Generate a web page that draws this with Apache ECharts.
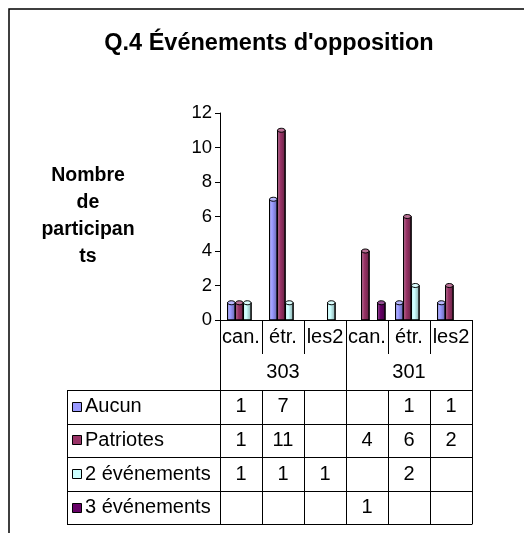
<!DOCTYPE html>
<html>
<head>
<meta charset="utf-8">
<title>Q.4 Événements d'opposition</title>
<script src="https://cdn.jsdelivr.net/npm/echarts@6/dist/echarts.min.js"></script>
<style>
html, body { margin: 0; padding: 0; background: #fff; }
#main { width: 524px; height: 533px; }
</style>
</head>
<body>
<div id="main"></div>
<script type="text/javascript">
// données
var categories = ['can.', 'étr.', 'les2', 'can.', 'étr.', 'les2'];
var groups = ['303', '301'];
var seriesNames = ['Aucun', 'Patriotes', '2 événements', '3 événements'];
var aucun = [1, 7, null, null, 1, 1];
var patriotes = [1, 11, null, 4, 6, 2];
var deuxEvenements = [1, 1, 1, null, 2, null];
var troisEvenements = [null, null, null, 1, null, null];
var yTicks = [0, 2, 4, 6, 8, 10, 12];

var seriesValues = [aucun, patriotes, deuxEvenements, troisEvenements];
var colors = ['#9999FF', '#993366', '#CCFFFF', '#660066'];
var font = "'Liberation Sans', Arial, sans-serif";

// éclaircir (t>0) ou assombrir (t<0) une couleur
function shade(hex, t) {
	var n = parseInt(hex.slice(1), 16);
	var rgb = [(n >> 16) & 255, (n >> 8) & 255, n & 255].map(function (v) {
		return Math.round(t > 0 ? v + (255 - v) * t : v * (1 + t));
	});
	return 'rgb(' + rgb.join(',') + ')';
}

// cylindre façon Excel 3D
function cylinder(k) {
	return function (params, api) {
		var idx = api.value(0);
		var base = api.coord([idx, 0]);
		var top = api.coord([idx, api.value(1)]);
		var band = api.size([1, 0])[0];
		var w = band * 0.18;
		var x = base[0] - band / 2 + band * (0.18 + 0.19 * k);
		var c = colors[k];
		return {
			type: 'group',
			children: [{
				type: 'rect',
				shape: { x: x, y: top[1], width: w, height: base[1] - top[1] },
				style: {
					fill: {
						type: 'linear', x: 0, y: 0, x2: 1, y2: 0,
						colorStops: [
							{ offset: 0, color: shade(c, 0.35) },
							{ offset: 0.4, color: c },
							{ offset: 1, color: shade(c, -0.35) }
						]
					},
					stroke: '#000',
					lineWidth: 1
				}
			}, {
				type: 'ellipse',
				shape: { cx: x + w / 2, cy: top[1], rx: w / 2, ry: 2 },
				style: { fill: shade(c, 0.3), stroke: '#000', lineWidth: 1 }
			}]
		};
	};
}

var myChart = echarts.init(document.getElementById('main'));

var seriesData = seriesValues.map(function (vals, k) {
	var data = [];
	vals.forEach(function (v, i) {
		if (v != null) data.push([i, v]);
	});
	return {
		name: seriesNames[k],
		type: 'custom',
		renderItem: cylinder(k),
		encode: { x: 0, y: 1 },
		data: data,
		silent: true
	};
});

var option = {
	animation: false,
	backgroundColor: '#fff',
	title: {
		text: "Q.4 Événements d'opposition",
		left: 264,
		top: 27,
		textAlign: 'center',
		textStyle: { fontSize: 23.5, fontWeight: 'bold', color: '#000', fontFamily: font }
	},
	grid: { left: 220, top: 113, width: 252, height: 207 },
	xAxis: [{
		type: 'category',
		data: categories,
		position: 'bottom',
		axisLine: { lineStyle: { color: '#000', width: 1 } },
		axisTick: { show: true, interval: 0, length: 34, lineStyle: { color: '#000' } },
		axisLabel: { interval: 0, color: '#000', fontSize: 20, fontFamily: font, margin: 7 },
		splitLine: { show: false }
	}, {
		type: 'category',
		data: groups,
		position: 'bottom',
		offset: 34,
		axisLine: { show: false },
		axisTick: { show: true, interval: 0, length: 36, lineStyle: { color: '#000' } },
		axisLabel: { interval: 0, color: '#000', fontSize: 20, fontFamily: font, margin: 8 },
		splitLine: { show: false }
	}],
	yAxis: {
		type: 'value',
		min: yTicks[0],
		max: yTicks[yTicks.length - 1],
		interval: yTicks[1] - yTicks[0],
		axisLine: { show: true, lineStyle: { color: '#000' } },
		axisTick: { show: true, length: 5, lineStyle: { color: '#000' } },
		splitLine: { show: false },
		axisLabel: { color: '#000', fontSize: 18.5, fontFamily: font, margin: 8 },
		name: 'Nombre\nde\nparticipan\nts',
		nameLocation: 'middle',
		nameRotate: 0,
		nameGap: 132,
		nameTextStyle: {
			fontWeight: 'bold', fontSize: 19.5, lineHeight: 27,
			align: 'center', verticalAlign: 'middle', color: '#000', fontFamily: font
		}
	},
	series: seriesData
};
myChart.setOption(option);

// tableau de données sous le graphique
function buildTable() {
	var centers = categories.map(function (_, i) {
		return myChart.convertToPixel({ xAxisIndex: 0 }, i);
	});
	var band = centers[1] - centers[0];
	var edges = centers.map(function (c) { return c - band / 2; });
	edges.push(centers[centers.length - 1] + band / 2);
	var yBase = myChart.convertToPixel({ yAxisIndex: 0 }, 0);
	var rowTop = yBase + 34 + 36;
	var rowH = 33.6;
	var tableLeft = 67;
	var tableRight = edges[edges.length - 1];
	var px = function (v) { return Math.round(v) + 0.5; };

	var els = [{
		type: 'rect',
		shape: { x: 9, y: 9, width: 600, height: 600 },
		style: { fill: 'none', stroke: '#000', lineWidth: 1.5 },
		silent: true
	}];
	for (var r = 0; r <= seriesNames.length; r++) {
		els.push({
			type: 'line',
			shape: { x1: tableLeft, y1: px(rowTop + r * rowH), x2: tableRight, y2: px(rowTop + r * rowH) },
			style: { stroke: '#000', lineWidth: 1 }
		});
	}
	[tableLeft].concat(edges).forEach(function (x) {
		els.push({
			type: 'line',
			shape: { x1: px(x), y1: rowTop, x2: px(x), y2: rowTop + seriesNames.length * rowH },
			style: { stroke: '#000', lineWidth: 1 }
		});
	});
	seriesNames.forEach(function (name, k) {
		var mid = rowTop + (k + 0.5) * rowH;
		els.push({
			type: 'rect',
			shape: { x: 72.5, y: Math.round(mid - 5) + 0.5, width: 9, height: 9 },
			style: { fill: colors[k], stroke: '#000', lineWidth: 1 }
		});
		els.push({
			type: 'text',
			x: 85, y: mid,
			style: { text: name, fontSize: 20, fontFamily: font, fill: '#000', align: 'left', verticalAlign: 'middle' }
		});
		seriesValues[k].forEach(function (v, i) {
			if (v == null) return;
			els.push({
				type: 'text',
				x: centers[i], y: mid,
				style: { text: String(v), fontSize: 20, fontFamily: font, fill: '#000', align: 'center', verticalAlign: 'middle' }
			});
		});
	});
	myChart.setOption({ graphic: els });
}
buildTable();
</script>
</body>
</html>
